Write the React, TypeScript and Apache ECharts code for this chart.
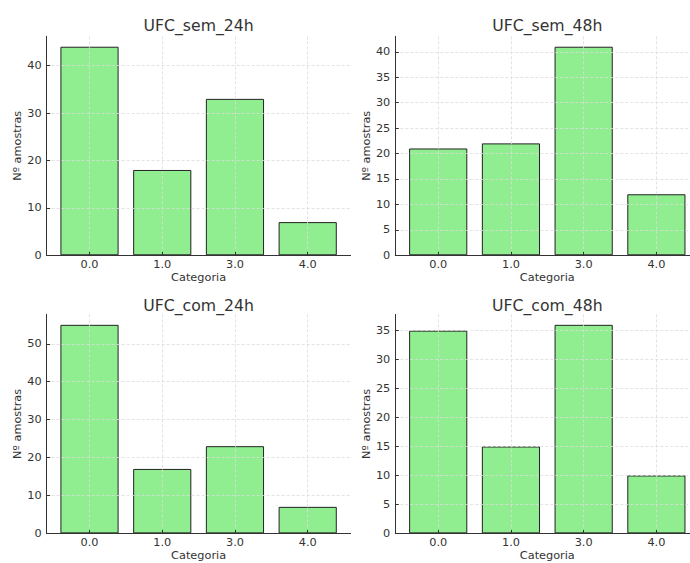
import React, { useEffect, useRef } from "react";
import * as echarts from "echarts";

const categories = ["0.0", "1.0", "3.0", "4.0"];
const panelTitles = ["UFC_sem_24h", "UFC_sem_48h", "UFC_com_24h", "UFC_com_48h"];
const ufcSem24 = [44, 18, 33, 7];
const ufcSem48 = [21, 22, 41, 12];
const ufcCom24 = [55, 17, 23, 7];
const ufcCom48 = [35, 15, 36, 10];
const ticksSem24 = [0, 10, 20, 30, 40];
const ticksSem48 = [0, 5, 10, 15, 20, 25, 30, 35, 40];
const ticksCom24 = [0, 10, 20, 30, 40, 50];
const ticksCom48 = [0, 5, 10, 15, 20, 25, 30, 35];
const xAxisName = "Categoria";
const yAxisName = "Nº amostras";

const panelValues = [ufcSem24, ufcSem48, ufcCom24, ufcCom48];
const panelTicks = [ticksSem24, ticksSem48, ticksCom24, ticksCom48];

const FONT = "DejaVu Sans";
const TEXT = "#333";

export default function App() {
  const ref = useRef<HTMLDivElement>(null);
  useEffect(() => {
    if (!ref.current) return;
    const chart = echarts.init(ref.current, null, { renderer: "svg" });
    const lefts = [46.6, 395.3];
    const tops = [36.3, 314.4];
    const titleTops = [17.2, 297.4];
    const W = 304;
    const H = 219;
    const xMin = -0.59;
    const xMax = 3.59;
    const barW = (0.8 * W) / (xMax - xMin);

    const grids: any[] = [];
    const xAxes: any[] = [];
    const yAxes: any[] = [];
    const series: any[] = [];
    const titles: any[] = [];
    const xIdx = categories.map((_, i) => i);

    panelValues.forEach((vals, p) => {
      const col = p % 2;
      const row = Math.floor(p / 2);
      const left = lefts[col];
      const top = tops[row];
      grids.push({
        left,
        top,
        width: W,
        height: H,
        containLabel: false,
        outerBoundsMode: "none",
      });
      titles.push({
        text: panelTitles[p],
        left: left + W / 2,
        top: titleTops[row],
        textAlign: "center",
        padding: 0,
        textStyle: { fontFamily: FONT, fontSize: 15.7, fontWeight: "normal", color: TEXT },
      });
      xAxes.push({
        type: "value",
        gridIndex: p,
        min: xMin,
        max: xMax,
        z: 3,
        name: xAxisName,
        nameLocation: "middle",
        nameGap: 17,
        nameTextStyle: { fontFamily: FONT, fontSize: 11.3, color: TEXT },
        axisLine: { show: true, onZero: false, lineStyle: { color: "#333", width: 1 } },
        axisTick: { show: true, inside: true, length: 3.5, customValues: xIdx, lineStyle: { color: "#333" } },
        axisLabel: {
          customValues: xIdx,
          margin: 4,
          fontFamily: FONT,
          fontSize: 11.3,
          color: TEXT,
          formatter: (v: number) => categories[Math.round(v)] ?? "",
        },
        splitLine: { show: true, lineStyle: { color: "#dcdcdc", type: [3, 2], width: 0.8 } },
      });
      const ticks = panelTicks[p];
      yAxes.push({
        type: "value",
        gridIndex: p,
        min: 0,
        max: Math.max(...vals) * 1.05,
        z: 3,
        name: yAxisName,
        nameLocation: "middle",
        nameGap: 23,
        nameTextStyle: { fontFamily: FONT, fontSize: 11.3, color: TEXT },
        axisLine: { show: true, onZero: false, lineStyle: { color: "#333", width: 1 } },
        axisTick: { show: true, inside: true, length: 3.5, customValues: ticks, lineStyle: { color: "#333" } },
        axisLabel: { customValues: ticks, margin: 5, fontFamily: FONT, fontSize: 11.3, color: TEXT },
        splitLine: { show: true, lineStyle: { color: "#dcdcdc", type: [3, 2], width: 0.8 } },
      });
      series.push({
        type: "bar",
        xAxisIndex: p,
        yAxisIndex: p,
        barWidth: barW,
        data: vals.map((v, i) => [i, v]),
        itemStyle: { color: "#90EE90", borderColor: "#222", borderWidth: 1 },
      });
    });

    chart.setOption({
      animation: false,
      backgroundColor: "#fff",
      title: titles,
      grid: grids,
      xAxis: xAxes,
      yAxis: yAxes,
      series,
    });
    return () => chart.dispose();
  }, []);
  return (
    <div
      ref={ref}
      style={{ position: "fixed", left: 0, top: 0, width: 690, height: 563, background: "#fff" }}
    />
  );
}
